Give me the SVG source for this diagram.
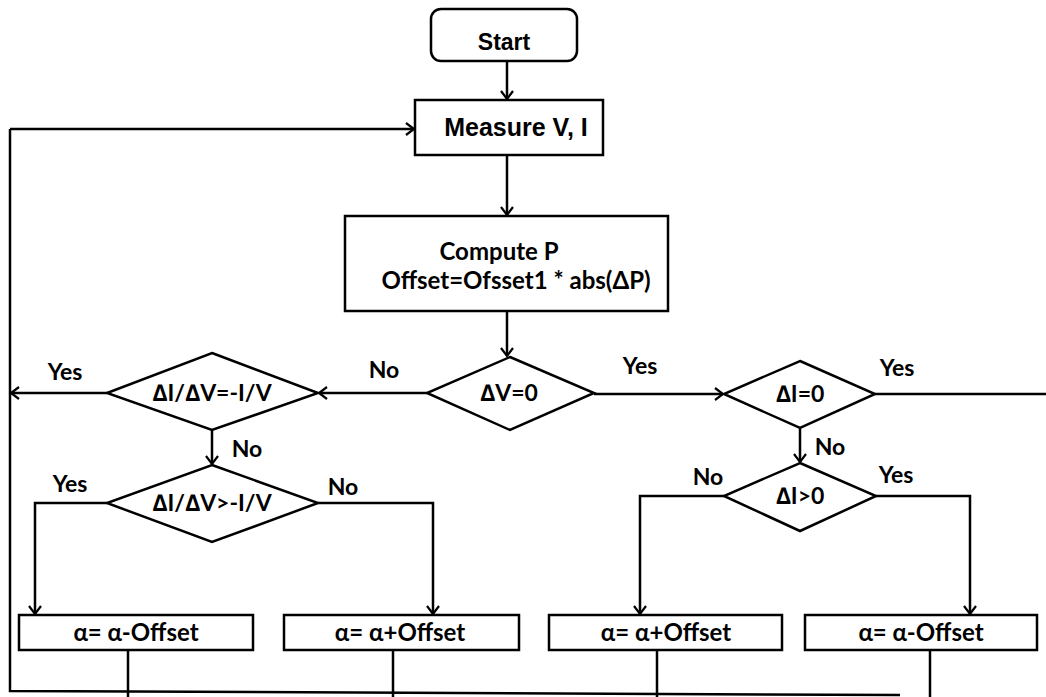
<svg xmlns="http://www.w3.org/2000/svg" width="1046" height="697" viewBox="0 0 1046 697">
<style>
.box{fill:#fff;stroke:#000;stroke-width:2.5}
.ln{fill:none;stroke:#000;stroke-width:2.5}
.arr{marker-end:url(#ah)}
.t{font-family:Lato,"Open Sans","Liberation Sans",sans-serif;font-weight:bold;font-size:24px;fill:#000;text-anchor:middle}
.d{font-family:Lato,"Open Sans","Liberation Sans",sans-serif;font-weight:bold;font-size:23px;fill:#000;text-anchor:middle}
.g{font-family:"Liberation Sans",Arial,sans-serif;font-weight:bold;fill:#000;text-anchor:middle}
.lbl{font-family:Lato,"Open Sans","Liberation Sans",sans-serif;font-weight:bold;font-size:23px;fill:#000;text-anchor:middle}
</style>
<defs>
<marker id="ah" markerWidth="14" markerHeight="14" refX="11" refY="7" orient="auto" markerUnits="userSpaceOnUse">
<path d="M3,1 L11,7 L3,13" fill="none" stroke="#000" stroke-width="2.2"/>
</marker>
</defs>
<rect width="1046" height="697" fill="#fff"/>
<g id="connectors">
<line class="ln arr" x1="507" y1="61" x2="507" y2="99"/>
<line class="ln arr" x1="507" y1="155" x2="507" y2="215"/>
<line class="ln arr" x1="507" y1="311" x2="507" y2="356"/>
<line class="ln arr" x1="427" y1="393" x2="319" y2="393"/>
<line class="ln arr" x1="107" y1="393" x2="11" y2="393"/>
<line class="ln arr" x1="594" y1="394" x2="723" y2="394"/>
<line class="ln" x1="875" y1="394" x2="1046" y2="394"/>
<line class="ln arr" x1="800" y1="428" x2="800" y2="462"/>
<line class="ln arr" x1="212" y1="430" x2="212" y2="464"/>
<polyline class="ln arr" points="107,503 35,503 35,614"/>
<polyline class="ln arr" points="318,503 433,503 433,614"/>
<polyline class="ln arr" points="724,496 640,496 640,614"/>
<polyline class="ln arr" points="876,496 970,496 970,614"/>
<line class="ln" x1="128" y1="650" x2="128" y2="697"/>
<line class="ln" x1="393" y1="650" x2="393" y2="697"/>
<line class="ln" x1="657" y1="650" x2="657" y2="697"/>
<line class="ln" x1="930" y1="650" x2="930" y2="697"/>
<polyline class="ln" points="900,695 10,691 10,129"/>
<line class="ln arr" x1="10" y1="129" x2="414" y2="129"/>
</g>
<g id="start">
<rect class="box" x="431" y="9" width="146" height="52" rx="10"/>
<text class="g" x="504" y="50" font-size="23">Start</text>
</g>
<g id="measure">
<rect class="box" x="415" y="100" width="188" height="55"/>
<text class="g" x="516" y="136" font-size="25">Measure V, I</text>
</g>
<g id="compute">
<rect class="box" x="345" y="216" width="323" height="95"/>
<text class="t" x="499" y="260">Compute P</text>
<text class="t" x="516" y="289">Offset=Ofsset1 * abs(ΔP)</text>
</g>
<g id="dv0">
<polygon class="box" points="510,357 594,393 510,430 427,393"/>
<text class="d" x="509" y="401">∆V=0</text>
</g>
<g id="didv_eq">
<polygon class="box" points="212,353 318,393 212,430 107,393"/>
<text class="d" x="212" y="401">∆I/∆V=-I/V</text>
</g>
<g id="didv_gt">
<polygon class="box" points="212,465 318,503 212,542 107,503"/>
<text class="d" x="212" y="511">∆I/∆V&gt;-I/V</text>
</g>
<g id="di0">
<polygon class="box" points="800,361 875,394 800,428 724,394"/>
<text class="d" x="800" y="402">∆I=0</text>
</g>
<g id="digt0">
<polygon class="box" points="800,463 876,496 800,531 724,496"/>
<text class="d" x="800" y="504">∆I&gt;0</text>
</g>
<g id="box1">
<rect class="box" x="19" y="615" width="234" height="35"/>
<text class="t" x="136" y="641">α= α-Offset</text>
</g>
<g id="box2">
<rect class="box" x="284" y="615" width="235" height="35"/>
<text class="t" x="400" y="641">α= α+Offset</text>
</g>
<g id="box3">
<rect class="box" x="549" y="615" width="233" height="35"/>
<text class="t" x="666" y="641">α= α+Offset</text>
</g>
<g id="box4">
<rect class="box" x="805" y="615" width="232" height="35"/>
<text class="t" x="921" y="641">α= α-Offset</text>
</g>
<g id="labels">
<text class="lbl" x="65" y="380">Yes</text>
<text class="lbl" x="384" y="378">No</text>
<text class="lbl" x="640" y="374">Yes</text>
<text class="lbl" x="897" y="376">Yes</text>
<text class="lbl" x="247" y="457">No</text>
<text class="lbl" x="830" y="455">No</text>
<text class="lbl" x="70" y="492">Yes</text>
<text class="lbl" x="343" y="495">No</text>
<text class="lbl" x="708" y="485">No</text>
<text class="lbl" x="896" y="483">Yes</text>
</g>
</svg>
